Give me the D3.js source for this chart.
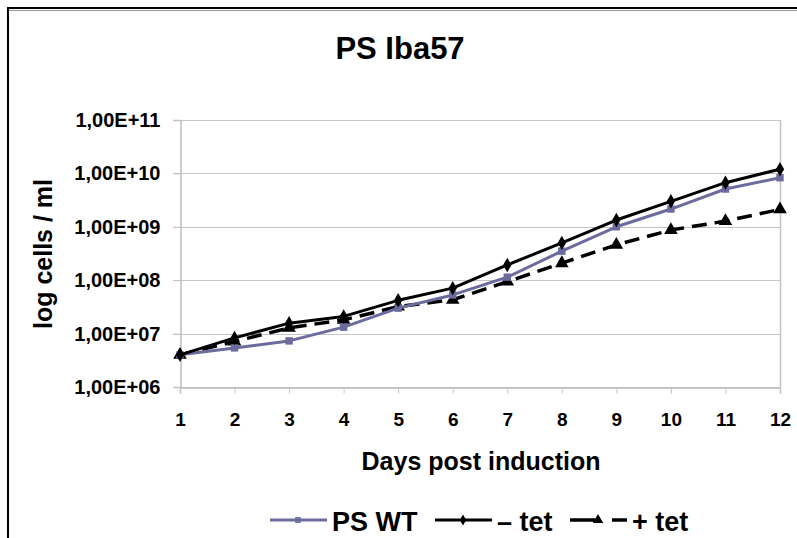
<!DOCTYPE html>
<html>
<head>
<meta charset="utf-8">
<script src="https://cdn.jsdelivr.net/npm/d3@7"></script>
<style>
  body { margin: 0; background: #fff; }
  svg { display: block; font-family: "Liberation Sans", Arial, sans-serif; font-weight: bold; }
</style>
</head>
<body>
<div id="chart"></div>
<script>
// data
var days = [1, 2, 3, 4, 5, 6, 7, 8, 9, 10, 11, 12];
var psWT = [4.0e6, 5.4e6, 7.3e6, 1.32e7, 3.0e7, 5.3e7, 1.14e8, 3.5e8, 1.0e9, 2.15e9, 5.1e9, 8.3e9];
var minusTet = [4.0e6, 8.3e6, 1.57e7, 2.1e7, 4.2e7, 7.1e7, 1.93e8, 5.0e8, 1.34e9, 3.0e9, 6.7e9, 1.2e10];
var plusTet = [4.0e6, 7.1e6, 1.28e7, 1.81e7, 3.2e7, 4.3e7, 9.4e7, 2.08e8, 4.6e8, 8.7e8, 1.28e9, 2.12e9];
var yTicks = [1e6, 1e7, 1e8, 1e9, 1e10, 1e11];
var yTickLabels = ["1,00E+06", "1,00E+07", "1,00E+08", "1,00E+09", "1,00E+10", "1,00E+11"];

var W = 797, H = 538;
var svg = d3.select("#chart").append("svg")
    .attr("width", W)
    .attr("height", H);

// outer frame (runs off the right and bottom edge)
svg.append("rect")
    .attr("x", 8).attr("y", 8)
    .attr("width", 820).attr("height", 560)
    .attr("fill", "none")
    .attr("stroke", "#000")
    .attr("stroke-width", 2);
svg.append("line")
    .attr("x1", 9).attr("x2", W).attr("y1", 10.5).attr("y2", 10.5)
    .attr("stroke", "#999").attr("stroke-width", 1);

var x = d3.scaleLinear().domain([1, 12]).range([180, 780]);
var y = d3.scaleLog().domain([1e6, 1e11]).range([387, 120]);

// gridlines
svg.append("g").selectAll("line")
    .data(yTicks)
    .enter().append("line")
    .attr("x1", 173).attr("x2", 780)
    .attr("y1", function(d) { return Math.round(y(d)) + 0.5; })
    .attr("y2", function(d) { return Math.round(y(d)) + 0.5; })
    .attr("stroke", "#c4c4c4")
    .attr("stroke-width", 1.2);

// y axis
var yAxis = d3.axisLeft(y)
    .tickValues(yTicks)
    .tickFormat(function(d, i) { return yTickLabels[i]; })
    .tickSize(7)
    .tickPadding(13);
var gy = svg.append("g").attr("transform", "translate(180.5,0)").call(yAxis);
gy.select(".domain").attr("stroke", "#bdbdbd").attr("stroke-width", 1.5);
gy.selectAll(".tick line").attr("stroke", "#c4c4c4");
gy.selectAll("text")
    .attr("fill", "#000")
    .style("font-family", "'Liberation Sans', Arial, sans-serif")
    .style("font-weight", "bold")
    .style("font-size", "20px");

// right edge of plot
svg.append("line")
    .attr("x1", 780.5).attr("x2", 780.5).attr("y1", 120).attr("y2", 387)
    .attr("stroke", "#c4c4c4").attr("stroke-width", 1.5);

// x axis
var xAxis = d3.axisBottom(x)
    .tickValues(days)
    .tickFormat(d3.format("d"))
    .tickSize(6)
    .tickPadding(19);
var gx = svg.append("g").attr("transform", "translate(0,387.5)").call(xAxis);
gx.select(".domain").attr("stroke", "#bdbdbd").attr("stroke-width", 1.5);
gx.selectAll(".tick line").attr("stroke", "#c4c4c4");
gx.selectAll("text")
    .attr("fill", "#000")
    .style("font-family", "'Liberation Sans', Arial, sans-serif")
    .style("font-weight", "bold")
    .style("font-size", "19px");

// titles
svg.append("text")
    .attr("x", 400).attr("y", 59)
    .attr("text-anchor", "middle")
    .style("font-size", "31px")
    .text("PS Iba57");

svg.append("text")
    .attr("x", 481).attr("y", 470)
    .attr("text-anchor", "middle")
    .style("font-size", "25px")
    .text("Days post induction");

svg.append("text")
    .attr("transform", "translate(52,254) rotate(-90)")
    .attr("text-anchor", "middle")
    .style("font-size", "25px")
    .text("log cells / ml");

// series
var series = [
  { name: "PS WT", values: psWT, color: "#6b6b9e", width: 3, dash: null, marker: d3.symbolSquare, size: 55 },
  { name: "\u2013 tet", values: minusTet, color: "#000", width: 3, dash: null, marker: d3.symbolDiamond, size: 60 },
  { name: "+ tet", values: plusTet, color: "#000", width: 3.5, dash: "15,8", marker: d3.symbolTriangle, size: 80 }
];

var line = d3.line()
    .x(function(d) { return x(d.day); })
    .y(function(d) { return y(d.v); });

// draw +tet first, then WT, then -tet on top
var drawOrder = [2, 0, 1];
drawOrder.forEach(function(k) {
  var s = series[k];
  var pts = days.map(function(d, i) { return { day: d, v: s.values[i] }; });
  var g = svg.append("g");
  g.append("path")
      .datum(pts)
      .attr("d", line)
      .attr("fill", "none")
      .attr("stroke", s.color)
      .attr("stroke-width", s.width)
      .attr("stroke-dasharray", s.dash)
      .attr("stroke-linejoin", "round");
  g.selectAll("path.mk")
      .data(pts)
      .enter().append("path")
      .attr("class", "mk")
      .attr("transform", function(d) { return "translate(" + x(d.day) + "," + y(d.v) + ")"; })
      .attr("d", d3.symbol().type(s.marker).size(s.size))
      .attr("fill", s.color);
});

// legend
var legendX = [270, 435, 570];
var legendY = 520;
series.forEach(function(s, i) {
  var lx = legendX[i];
  var g = svg.append("g");
  g.append("line")
      .attr("x1", lx).attr("x2", lx + 57)
      .attr("y1", legendY).attr("y2", legendY)
      .attr("stroke", s.color)
      .attr("stroke-width", s.width)
      .attr("stroke-dasharray", s.dash ? "28,14" : null);
  g.append("path")
      .attr("transform", "translate(" + (lx + 28) + "," + legendY + ")")
      .attr("d", d3.symbol().type(s.marker).size(s.size * 0.6))
      .attr("fill", s.color);
  g.append("text")
      .attr("x", lx + 62).attr("y", legendY + 11)
      .style("font-size", "27px")
      .text(s.name);
});
</script>
</body>
</html>
